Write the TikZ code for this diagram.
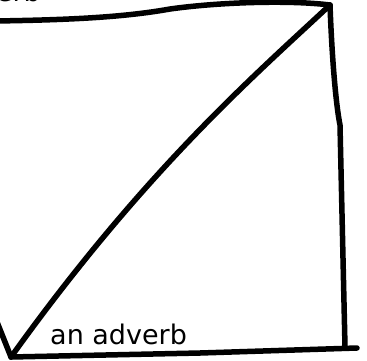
\documentclass[tikz,border=0pt]{standalone}
\usepackage{fontspec}
\setmainfont{DejaVu Sans}
\begin{document}
\begin{tikzpicture}[x=1pt,y=-1pt,
  sketch/.style={line width=5.5pt,line cap=round,line join=round},
  lbl/.style={font=\fontsize{27}{30}\selectfont,inner sep=0pt}]
\useasboundingbox (0,0) rectangle (367,360);
\clip (0,0) rectangle (367,360);
\coordinate (apex) at (330,5);
\coordinate (bl) at (11,357);
\coordinate (br) at (357,348);
\coordinate (tl) at (-5,21);
\coordinate (ul) at (-3,322);
% top line
\draw[sketch] (tl) .. controls (60,20) and (120,18) .. (170,9)
  .. controls (220,2) and (290,0) .. (apex);
% right side
\draw[sketch] (apex) .. controls (332,60) and (336,105) .. (340,125)
  -- (345,347);
% bottom line
\draw[sketch] (bl) -- (200,353) -- (br);
% diagonal
\draw[sketch] (apex) .. controls (255,75) and (145,170) .. (bl);
% short left stroke
\draw[sketch] (ul) -- (bl);
% labels
\node[lbl,anchor=base east] (verb) at (41,1.5) {a verb};
\node[lbl,anchor=base west] (adv) at (50,344) {an adverb};
\end{tikzpicture}
\end{document}
